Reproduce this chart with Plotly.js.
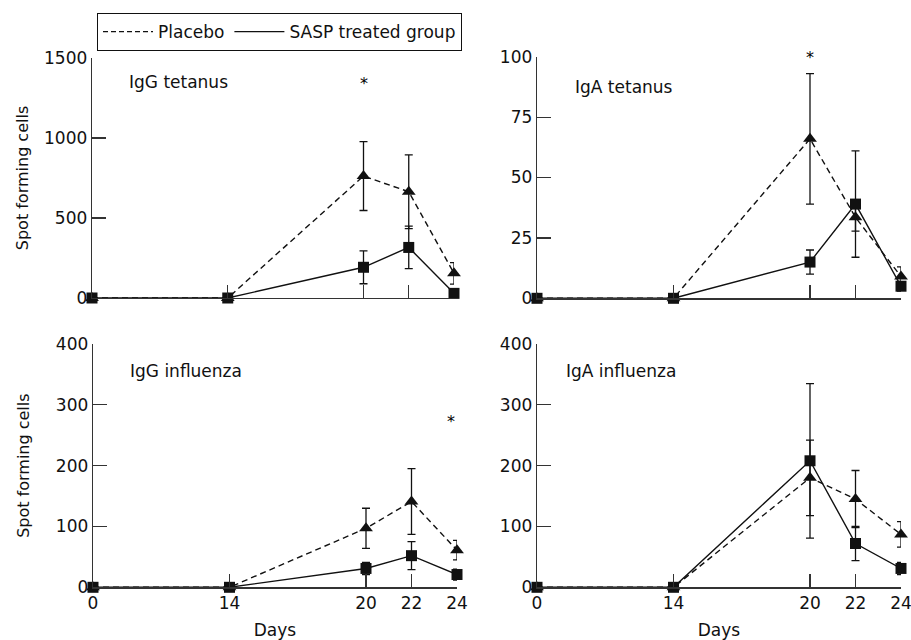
<!DOCTYPE html>
<html>
<head>
<meta charset="utf-8">
<script src="https://cdn.plot.ly/plotly-3.0.1.min.js"></script>
<style>html,body{margin:0;padding:0;background:#fff}#chart{width:911px;height:640px}</style>
</head>
<body>
<div id="chart"></div>
<script>
const days = [0, 14, 20, 22, 24];
const dayTicks = ["0", "14", "20", "22", "24"];

const igGTetPlacebo = [0, 0, 762, 664, 154];
const igGTetPlaceboErr = [0, 0, 215, 230, 67];
const igGTetSASP = [0, 0, 192, 316, 29];
const igGTetSASPErr = [0, 0, 103, 133, 12];

const igATetPlacebo = [0, 0, 66, 33.5, 9];
const igATetPlaceboErr = [0, 0, 27, 5.7, 4];
const igATetSASP = [0, 0, 15, 39, 5];
const igATetSASPErr = [0, 0, 5, 22, 2];

const igGFluPlacebo = [0, 0, 97, 141, 61];
const igGFluPlaceboErr = [0, 0, 33, 54, 16];
const igGFluSASP = [0, 0, 31, 52, 21];
const igGFluSASPErr = [0, 0, 10, 23, 9];

const igAFluPlacebo = [0, 0, 180, 145, 87];
const igAFluPlaceboErr = [0, 0, 62, 47, 21];
const igAFluSASP = [0, 0, 208, 72, 31];
const igAFluSASPErr = [0, 0, 127, 28, 10];

const panelTitles = ["IgG tetanus", "IgA tetanus", "IgG influenza", "IgA influenza"];
const yMax = [1500, 100, 400, 400];
const yTicks = [[0, 500, 1000, 1500], [0, 25, 50, 75, 100], [0, 100, 200, 300, 400], [0, 100, 200, 300, 400]];
const starDay = [20, 20, 24, null];
const seriesNames = ["Placebo", "SASP treated group"];

// broken day axis: 0-14 compressed to the same width as 14-20
function dayPos(d) { return d <= 14 ? d * 6 / 14 : d - 8; }
const xPos = days.map(dayPos);

const FONT = "'DejaVu Sans', sans-serif";
const INK = "#111";

const panels = [
  [igGTetPlacebo, igGTetPlaceboErr, igGTetSASP, igGTetSASPErr],
  [igATetPlacebo, igATetPlaceboErr, igATetSASP, igATetSASPErr],
  [igGFluPlacebo, igGFluPlaceboErr, igGFluSASP, igGFluSASPErr],
  [igAFluPlacebo, igAFluPlaceboErr, igAFluSASP, igAFluSASPErr]
];

const traces = [];
panels.forEach((p, i) => {
  const xa = i === 0 ? "x" : "x" + (i + 1);
  const ya = i === 0 ? "y" : "y" + (i + 1);
  traces.push({
    x: xPos, y: p[0], xaxis: xa, yaxis: ya, type: "scatter", mode: "lines+markers",
    showlegend: false, cliponaxis: false,
    line: {color: INK, width: 1.4, dash: "6px,4px"},
    marker: {symbol: "triangle-up", size: 12, color: INK},
    error_y: {type: "data", array: p[1], visible: true, color: INK, thickness: 1.3, width: 4}
  });
  traces.push({
    x: xPos, y: p[2], xaxis: xa, yaxis: ya, type: "scatter", mode: "lines+markers",
    showlegend: false, cliponaxis: false,
    line: {color: INK, width: 1.4},
    marker: {symbol: "square", size: 11, color: INK},
    error_y: {type: "data", array: p[3], visible: true, color: INK, thickness: 1.3, width: 4}
  });
});
// legend entries
traces.push({x: [null], y: [null], type: "scatter", mode: "lines", name: seriesNames[0],
  line: {color: INK, width: 1.2, dash: "5px,3px"}});
traces.push({x: [null], y: [null], type: "scatter", mode: "lines", name: seriesNames[1],
  line: {color: INK, width: 1.2}});

const W = 911, H = 640;
const domX = [[92 / W, 454 / W], [537 / W, 901 / W], [93 / W, 457 / W], [537 / W, 901 / W]];
const domY = [[1 - 298 / H, 1 - 58 / H], [1 - 298.3 / H, 1 - 56.7 / H], [1 - 587.3 / H, 1 - 344 / H], [1 - 587.3 / H, 1 - 344 / H]];

const layout = {
  width: W, height: H,
  margin: {l: 0, r: 0, t: 0, b: 0},
  paper_bgcolor: "#fff", plot_bgcolor: "rgba(0,0,0,0)",
  font: {family: FONT, size: 16, color: INK},
  showlegend: true,
  legend: {
    orientation: "h", x: 97 / W, y: 1 - 13 / H, xanchor: "left", yanchor: "top",
    bordercolor: INK, borderwidth: 1, bgcolor: "#fff",
    font: {family: FONT, size: 17, color: INK}, itemwidth: 50, tracegroupgap: 0
  },
  annotations: [],
  shapes: []
};

panels.forEach((p, i) => {
  const sfx = i === 0 ? "" : String(i + 1);
  const bottom = i >= 2;
  const left = i % 2 === 0;
  layout["xaxis" + sfx] = {
    domain: domX[i], anchor: "y" + sfx, range: [0, 16], fixedrange: true,
    tickmode: "array", tickvals: xPos, ticktext: dayTicks, showticklabels: bottom,
    ticklabeloverflow: "allow",
    ticks: "inside", ticklen: 13, tickwidth: 1.2, tickcolor: "#333",
    showline: true, linecolor: "#333", linewidth: 1.3, showgrid: false, zeroline: false,
    tickfont: {family: FONT, size: 17, color: INK},
    title: bottom ? {text: "Days", font: {family: FONT, size: 17, color: INK}, standoff: 12} : {text: ""}
  };
  layout["yaxis" + sfx] = {
    domain: domY[i], anchor: "x" + sfx, range: [0, yMax[i]], fixedrange: true,
    tickmode: "array", tickvals: yTicks[i], ticks: "inside", ticklen: 14, tickwidth: 1.2, tickcolor: "#333",
    showline: true, linecolor: "#333", linewidth: 1.3, showgrid: false, zeroline: false,
    tickfont: {family: FONT, size: 17, color: INK},
    title: left ? {text: "Spot forming cells", font: {family: FONT, size: 16, color: INK}, standoff: i === 0 ? 11 : 22} : {text: ""}
  };
  layout.annotations.push({
    xref: "paper", yref: "paper", x: [127, 573, 128, 564][i] / W, y: 1 - [82, 87, 371, 371][i] / H,
    xanchor: "left", yanchor: "middle", showarrow: false, text: panelTitles[i],
    font: {family: FONT, size: 17, color: INK}
  });
  if (starDay[i] !== null) {
    layout.annotations.push({
      xref: "x" + sfx, yref: "paper", x: dayPos(starDay[i]) - (i === 2 ? 0.25 : 0),
      y: 1 - [84, 57, 421][i] / H, xanchor: "center", yanchor: "middle", showarrow: false,
      text: "*", font: {family: FONT, size: 16, color: "#000"}
    });
  }
});

Plotly.newPlot("chart", traces, layout, {displayModeBar: false, staticPlot: true});
</script>
</body>
</html>
